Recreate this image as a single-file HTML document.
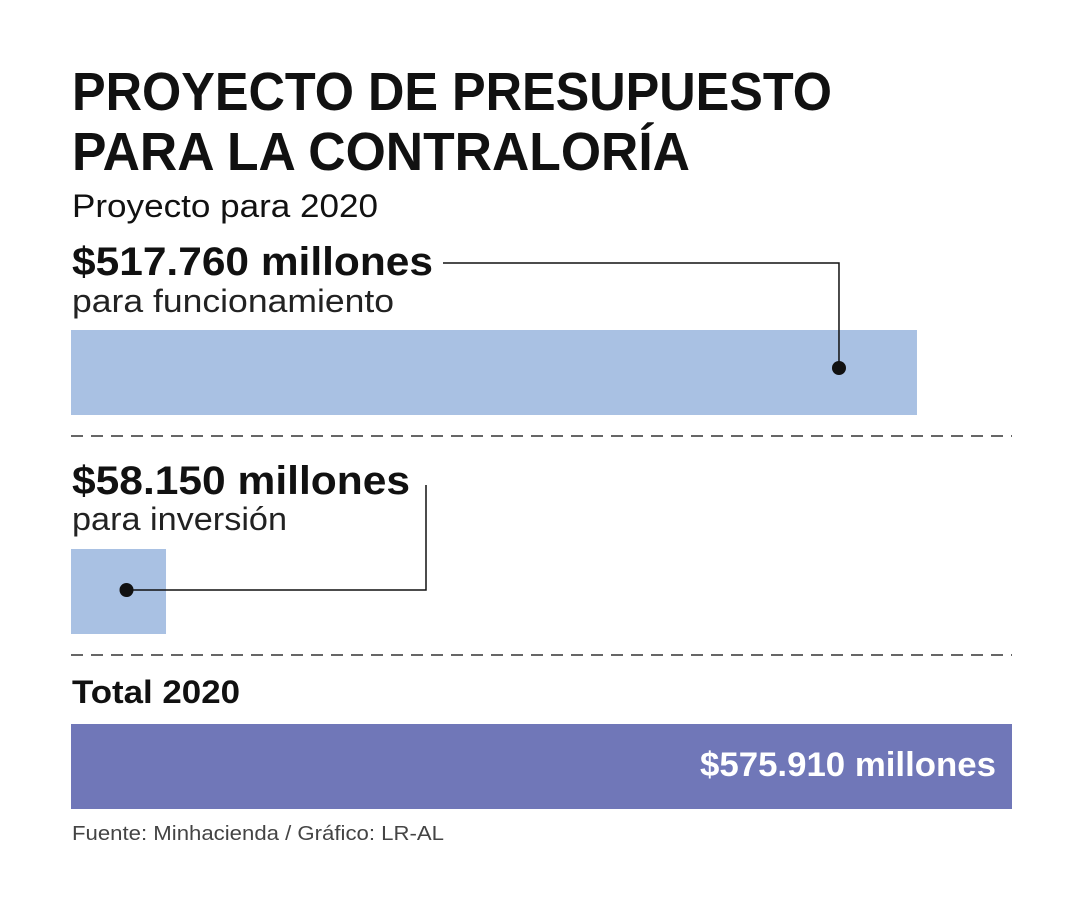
<!DOCTYPE html>
<html><head><meta charset="utf-8"><style>
html,body{margin:0;padding:0;background:#fff;}
svg{display:block;font-family:"Liberation Sans",sans-serif;}
</style></head><body>
<svg width="1080" height="900" viewBox="0 0 1080 900">
<text x="72" y="110" font-size="54" font-weight="bold" fill="#111" textLength="760" lengthAdjust="spacingAndGlyphs">PROYECTO DE PRESUPUESTO</text>
<text x="72" y="170" font-size="54" font-weight="bold" fill="#111" textLength="618" lengthAdjust="spacingAndGlyphs">PARA LA CONTRALORÍA</text>
<text x="72" y="217" font-size="32" fill="#111" textLength="306" lengthAdjust="spacingAndGlyphs">Proyecto para 2020</text>
<g id="bars"></g>
<line x1="71" y1="436" x2="1012" y2="436" stroke="#333" stroke-width="1.5" stroke-dasharray="12,8"/>
<line x1="71" y1="655" x2="1012" y2="655" stroke="#333" stroke-width="1.5" stroke-dasharray="12,8"/>
<text x="72" y="275" font-size="40" font-weight="bold" fill="#111" textLength="361" lengthAdjust="spacingAndGlyphs">$517.760 millones</text>
<text x="72" y="312" font-size="32" fill="#222" textLength="322" lengthAdjust="spacingAndGlyphs">para funcionamiento</text>
<text x="72" y="494" font-size="40" font-weight="bold" fill="#111" textLength="338" lengthAdjust="spacingAndGlyphs">$58.150 millones</text>
<text x="72" y="530" font-size="32" fill="#222" textLength="215" lengthAdjust="spacingAndGlyphs">para inversión</text>
<text x="72" y="703" font-size="32" font-weight="bold" fill="#111" textLength="168" lengthAdjust="spacingAndGlyphs">Total 2020</text>
<g id="overlay"></g>
<text x="72" y="840" font-size="20" fill="#444" textLength="372" lengthAdjust="spacingAndGlyphs">Fuente: Minhacienda / Gráfico: LR-AL</text>
</svg>
<script>
const categories = ["funcionamiento", "inversion", "total"];
const values = [517760, 58150, 575910];
const valueLabels = ["$517.760 millones", "$58.150 millones", "$575.910 millones"];
const NS = "http://www.w3.org/2000/svg";
const x0 = 71, xW = 941, maxV = 575910;
function xScale(v){ return x0 + v / maxV * xW; }
const tops = [330, 549, 724], h = 85;
const colors = ["#a9c1e3", "#a9c1e3", "#7077b8"];
const bars = document.getElementById("bars");
const ov = document.getElementById("overlay");
function mk(tag, attrs, parent){ const e = document.createElementNS(NS, tag); for (const k in attrs) e.setAttribute(k, attrs[k]); parent.appendChild(e); return e; }
const ends = [];
values.forEach((v, i) => {
  const r = mk("rect", {x: x0, y: tops[i], width: xScale(v) - x0, height: h, fill: colors[i]}, bars);
  
  
  ends.push(xScale(v));
});
// connector for funcionamiento
const d1x = ends[0] - 78, d1y = 368;
const p1 = mk("polyline", {points: `443,263 ${d1x},263 ${d1x},${d1y}`, fill: "none", stroke: "#111", "stroke-width": 1.5}, ov);


const c1 = mk("circle", {cx: d1x, cy: d1y, r: 7, fill: "#111"}, ov);


// connector for inversion
const d2x = (x0 + ends[1]) / 2 + 8, d2y = 590;
const p2 = mk("polyline", {points: `426,485 426,${d2y} ${d2x},${d2y}`, fill: "none", stroke: "#111", "stroke-width": 1.5}, ov);


const c2 = mk("circle", {cx: d2x, cy: d2y, r: 7, fill: "#111"}, ov);


// total value label
const t = mk("text", {x: ends[2] - 16, y: 776, "font-size": 34, "font-weight": "bold", fill: "#fff", "text-anchor": "end", textLength: 296, lengthAdjust: "spacingAndGlyphs"}, ov);
t.textContent = valueLabels[2];


</script>
</body></html>
